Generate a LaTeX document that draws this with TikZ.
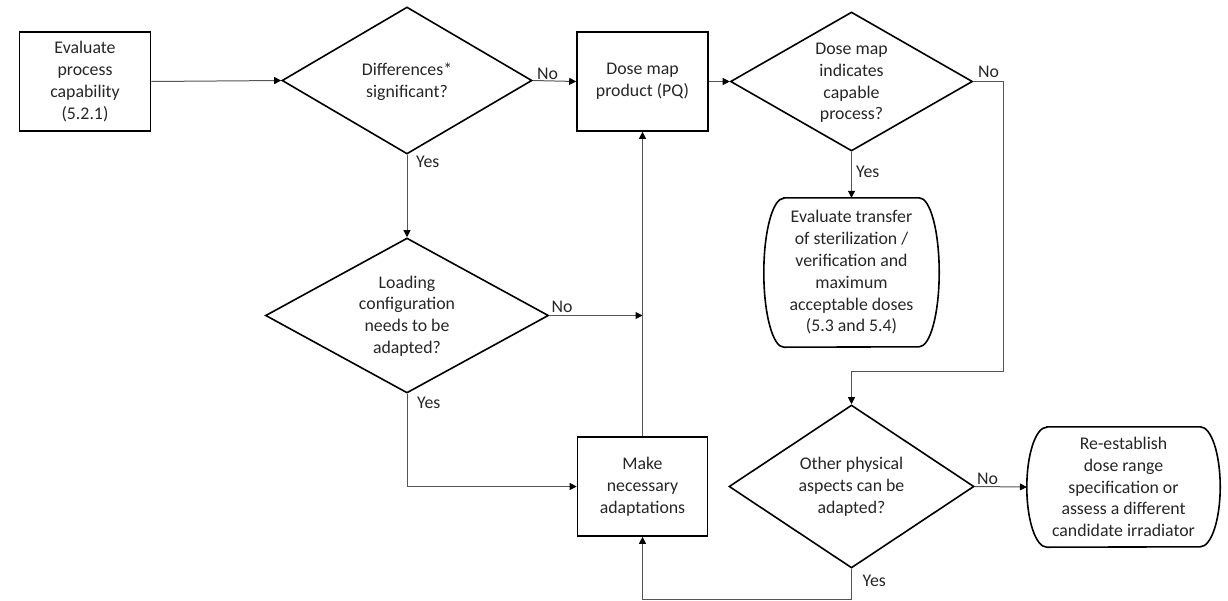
\documentclass[tikz,border=0pt]{standalone}
\usepackage{fontspec}
\setmainfont{Carlito}
\usetikzlibrary{shapes.geometric,arrows.meta,calc}
\definecolor{inkc}{HTML}{262626}
\definecolor{linec}{HTML}{555555}
\begin{document}
\begin{tikzpicture}[x=1pt,y=-1pt,
  every node/.style={font=\fontsize{17.8}{21.8}\selectfont, text=inkc},
  box/.style={rectangle, draw=black, line width=1.6pt, minimum width=131,
    minimum height=99, align=center, inner sep=0},
  dec/.style={diamond, draw=black, line width=1.6pt, inner sep=0},
  term/.style={rectangle, draw=none, align=center, inner sep=0},
  txt/.style={align=center, inner sep=0},
  lab/.style={anchor=base west, inner sep=0},
  flow/.style={draw=linec, line width=1pt,
    -{Triangle[length=7pt,width=7pt,color=black]}},
  termline/.style={draw=black, line width=1.6pt}
]
\useasboundingbox (0,0) rectangle (1228,600);

% --- shapes ---
\node[box] (b1) at (85,81.5) {Evaluate\\process\\capability\\(5.2.1)};
\node[dec, minimum width=250, minimum height=147] (d1) at (407,80.5) {};
\node[txt] (d1t) at (407,82) {Differences*\\significant?};
\node[box] (b2) at (642.5,81.5) {Dose map\\product (PQ)};
\node[dec, minimum width=242, minimum height=139] (d3) at (851.5,81.5) {};
\node[txt] (d3t) at (851.5,83) {Dose map\\indicates\\capable\\process?};
\node[term, minimum width=175, minimum height=149] (t5) at (851.5,272.5)
  {Evaluate transfer\\of sterilization /\\verification and\\maximum\\acceptable doses\\(5.3 and 5.4)};
\node[dec, minimum width=283, minimum height=155] (d2) at (407,315.5) {};
\node[txt] (d2t) at (407,316) {Loading\\configuration\\needs to be\\adapted?};
\node[box, minimum width=130] (b7) at (642.5,486.5) {Make\\necessary\\adaptations};
\node[dec, minimum width=245, minimum height=163] (d8) at (851.5,486.5) {};
\node[txt] (d8t) at (851.5,487) {Other physical\\aspects can be\\adapted?};
\node[term, minimum width=193, minimum height=120] (t9) at (1123.5,487)
  {Re-establish\\dose range\\specification or\\assess a different\\candidate irradiator};

% terminal outlines: flat top and bottom, elliptic sides
\draw[termline] ([xshift=20pt]t5.north west) -- ([xshift=-20pt]t5.north east)
  arc[start angle=90, end angle=-90, x radius=20pt, y radius=74.5pt]
  -- ([xshift=20pt]t5.south west)
  arc[start angle=270, end angle=90, x radius=20pt, y radius=74.5pt] -- cycle;
\draw[termline] ([xshift=20pt]t9.north west) -- ([xshift=-20pt]t9.north east)
  arc[start angle=90, end angle=-90, x radius=20pt, y radius=60pt]
  -- ([xshift=20pt]t9.south west)
  arc[start angle=270, end angle=90, x radius=20pt, y radius=60pt] -- cycle;

% --- connectors ---
\coordinate (j2) at (b7.north |- d2.east);
\coordinate (c6) at (1003,371);
\coordinate (c11) at (851.5,599);

\draw[flow] (b1.east) -- (d1.west);
\draw[flow] (d1.east) -- (b2.west);
\draw[flow] (d1.south) -- (d2.north);
\draw[flow] (b2.east) -- (d3.west);
\draw[flow] (d3.south) -- (t5.north);
\draw[flow] (d3.east) -| (c6) -| (d8.north);
\draw[flow] (d2.east) -- (j2);
\draw[flow] (b7.north) -- (b2.south);
\draw[flow] (d2.south) |- (b7.west);
\draw[flow] (d8.east) -- (t9.west);
\draw[flow] (d8.south) -- (c11) -| (b7.south);

% --- branch labels ---
\node[lab] (n1) at ([shift={(4,-1.5)}]d1.east) {No};
\node[lab] (y1) at ([shift={(9,13)}]d1.south) {Yes};
\node[lab] (n3) at ([shift={(4.5,-4)}]d3.east) {No};
\node[lab] (y3) at ([shift={(4.5,26)}]d3.south) {Yes};
\node[lab] (n2) at ([shift={(2,-3.5)}]d2.east) {No};
\node[lab] (y2) at ([shift={(10,15)}]d2.south) {Yes};
\node[lab] (n8) at ([shift={(2,-2.5)}]d8.east) {No};
\node[lab] (y8) at ([shift={(11,18)}]d8.south) {Yes};
\end{tikzpicture}
\end{document}
